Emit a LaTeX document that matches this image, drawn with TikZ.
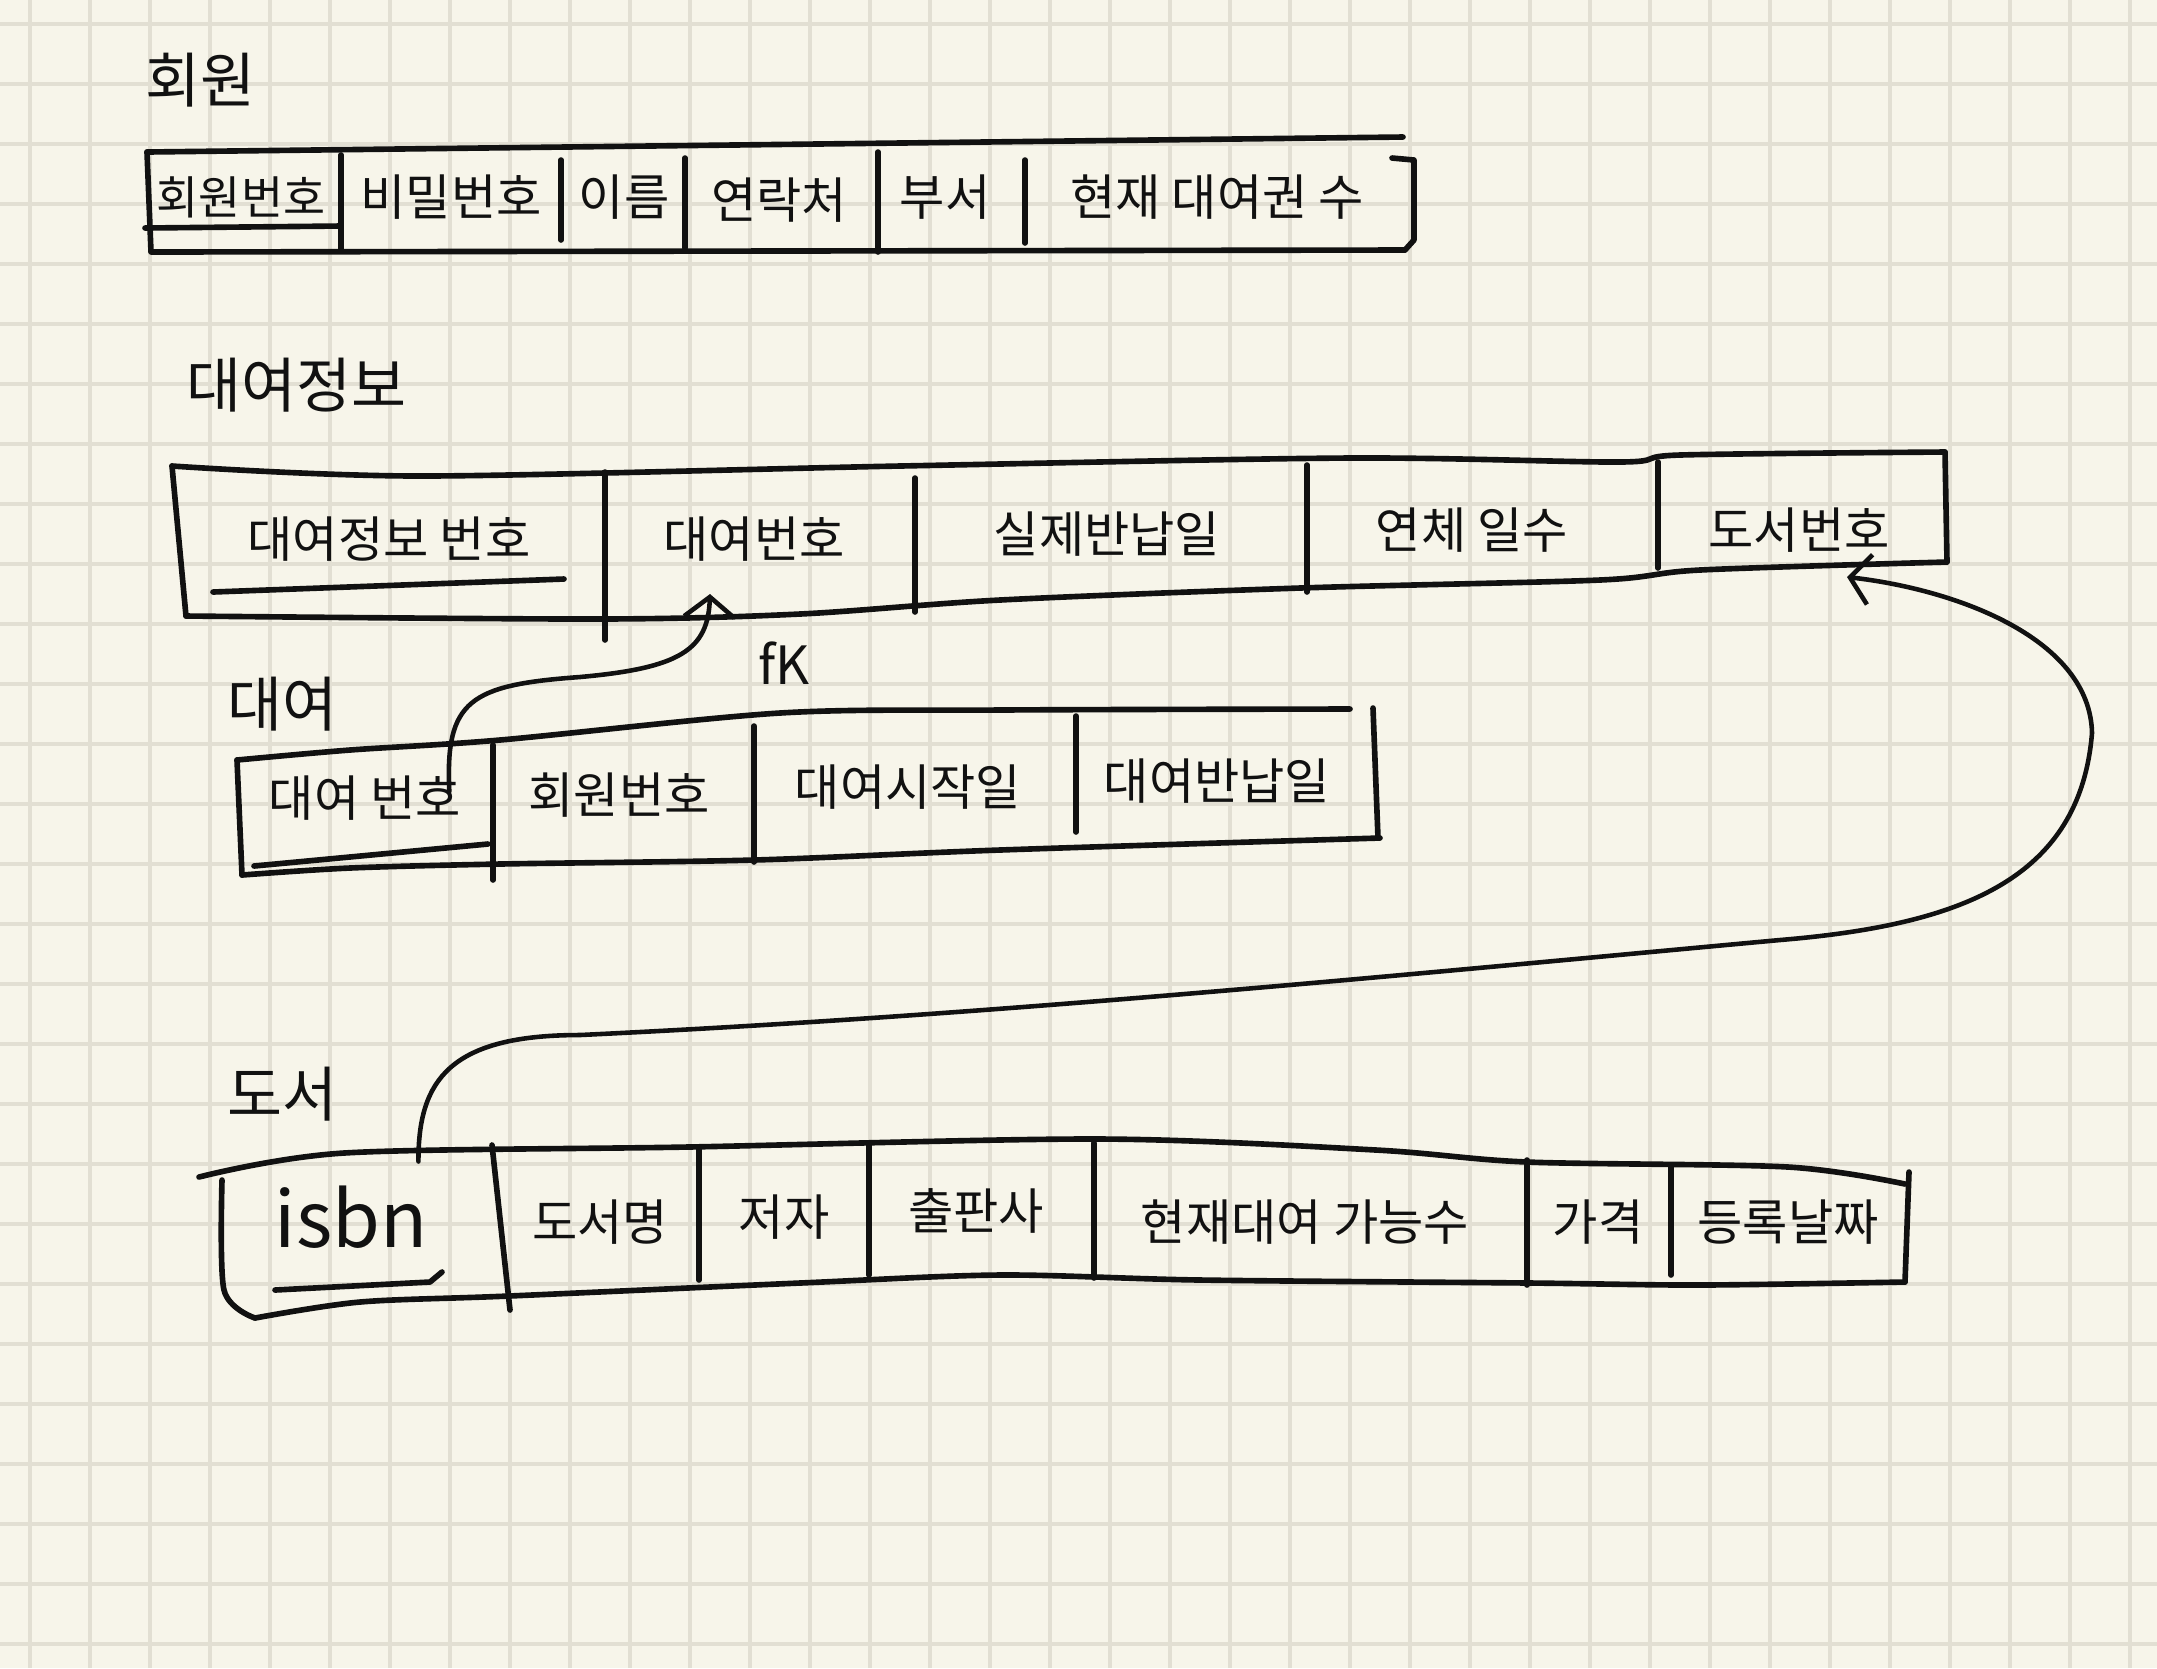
\documentclass[tikz,border=0pt]{standalone}
\usepackage{fontspec}
\setmainfont{Noto Sans CJK KR}
\usetikzlibrary{arrows.meta}
\definecolor{paper}{HTML}{F7F5EA}
\definecolor{rule}{HTML}{E2DFD3}
\definecolor{ink}{HTML}{111111}

\begin{document}
\begin{tikzpicture}[x=0.01cm,y=-0.01cm,>={Straight Barb[length=2mm,width=5mm]},
  every node/.style={inner sep=1pt,text=ink},
  ttl/.style={font=\fontsize{17}{17}\selectfont},
  cell/.style={font=\fontsize{14}{14}\selectfont},
  box/.style={draw=ink,line width=1.6pt,line cap=round,line join=round},
  link/.style={draw=ink,line width=1.3pt,line cap=round}]
  \useasboundingbox (0,0) rectangle (2157,1668);
  \fill[paper] (0,0) rectangle (2157,1668);
  \foreach \gx in {30,90,...,2130} \draw[rule,line width=0.9pt] (\gx,0) -- (\gx,1668);
  \foreach \gy in {24,84,...,1644} \draw[rule,line width=0.9pt] (0,\gy) -- (2157,\gy);

  % 회원
  \node[ttl] (tm) at (200,80) {회원};
  \draw[box] (147,152) -- (1403,137);
  \draw[box] (147,152) -- (151,252) -- (1405,250);
  \draw[box] (1392,158) -- (1414,160) -- (1414,240) -- (1405,250);
  \draw[box] (145,228) -- (341,226);
  \foreach \x/\ya/\yb in {341/155/250,561/160/240,685/158/248,878/152/252,1025/160/243}
    \draw[box] (\x,\ya) -- (\x,\yb);
  \node[cell,font=\fontsize{13}{13}\selectfont] (m1) at (241,197) {회원번호};
  \node[cell] (m2) at (451,197) {비밀번호};
  \node[cell] (m3) at (624,197) {이름};
  \node[cell] (m4) at (779,200) {연락처};
  \node[cell] (m5) at (945,197) {부서};
  \node[cell] (m6) at (1217,197) {현재 대여권 수};

  % 대여정보
  \node[ttl] (ti) at (296,385) {대여정보};
  \draw[box] plot[smooth] coordinates {(172,466) (420,476) (900,466) (1350,458) (1620,462) (1680,455) (1945,452)};
  \draw[box] (172,466) -- (186,616);
  \draw[box] plot[smooth] coordinates {(186,616) (600,619) (800,614) (1000,600) (1300,588) (1600,580) (1700,570) (1947,562)};
  \draw[box] (1945,452) -- (1947,562);
  \draw[box] (213,592) -- (564,579);
  \foreach \x/\ya/\yb in {605/472/640,915/478/612,1307/465/592,1658/462/568}
    \draw[box] (\x,\ya) -- (\x,\yb);
  \node[cell] (i1) at (389,539) {대여정보 번호};
  \node[cell] (i2) at (754,539) {대여번호};
  \node[cell] (i3) at (1107,534) {실제반납일};
  \node[cell] (i4) at (1472,530) {연체 일수};
  \node[cell] (i5) at (1799,530) {도서번호};

  % 대여
  \node[ttl] (tr) at (282,704) {대여};
  \draw[box] plot[smooth] coordinates {(237,760) (350,750) (500,740) (780,713) (1000,710) (1350,709)};
  \draw[box] (237,760) -- (242,875);
  \draw[box] plot[smooth] coordinates {(242,875) (350,868) (500,864) (754,860) (1000,850) (1380,838)};
  \draw[box] (1373,708) -- (1378,838);
  \draw[box] (254,866) -- (488,844);
  \foreach \x/\ya/\yb in {493/745/880,754/726/862,1076/716/832}
    \draw[box] (\x,\ya) -- (\x,\yb);
  \node[cell] (r1) at (365,798) {대여 번호};
  \node[cell] (r2) at (619,795) {회원번호};
  \node[cell] (r3) at (908,787) {대여시작일};
  \node[cell] (r4) at (1217,781) {대여반납일};

  % 도서
  \node[ttl] (tb) at (282,1094) {도서};
  \draw[box] plot[smooth] coordinates {(199,1177) (344,1153) (688,1147) (1100,1139) (1376,1150) (1527,1162) (1788,1167) (1905,1184)};
  \draw[box] plot[smooth] coordinates {(222,1180) (224,1290) (255,1318)};
  \draw[box] plot[smooth] coordinates {(255,1318) (360,1302) (509,1296) (800,1283) (1000,1275) (1200,1280) (1530,1283) (1700,1285) (1905,1282)};
  \draw[box] (1909,1172) -- (1905,1282);
  \draw[box] (275,1290) -- (430,1282) -- (442,1272);
  \draw[box] (492,1145) -- (510,1310);
  \foreach \x/\ya/\yb in {699/1148/1280,869/1145/1275,1094/1143/1278,1527/1160/1285,1671/1165/1275}
    \draw[box] (\x,\ya) -- (\x,\yb);
  \node[font=\fontsize{22}{22}\selectfont] (b1) at (351,1217) {isbn};
  \node[cell] (b2) at (600,1222) {도서명};
  \node[cell] (b3) at (784,1217) {저자};
  \node[cell] (b4) at (976,1211) {출판사};
  \node[cell] (b5) at (1305,1222) {현재대여 가능수};
  \node[cell] (b6) at (1598,1222) {가격};
  \node[cell] (b7) at (1788,1222) {등록날짜};

  % 외래키
  \coordinate (fktip) at (710,594);
  \coordinate (bntip) at (1847,577);
  \draw[link,->] ([xshift=-1.6mm,yshift=-2mm]r1.north east) .. controls (445,700) and (470,685) .. (580,677)
    .. controls (680,668) and (708,650) .. (fktip);
  \node[font=\fontsize{15}{15}\selectfont] (fk) at (784,663) {fK};
  \draw[link,->] ([xshift=-1.3mm,yshift=2mm]b1.north east) .. controls (418,1080) and (450,1035) .. (580,1035)
    .. controls (1000,1015) and (1400,975) .. (1780,940)
    .. controls (1960,925) and (2080,880) .. (2092,733)
    .. controls (2090,640) and (1960,590) .. (bntip);
\end{tikzpicture}
\end{document}
